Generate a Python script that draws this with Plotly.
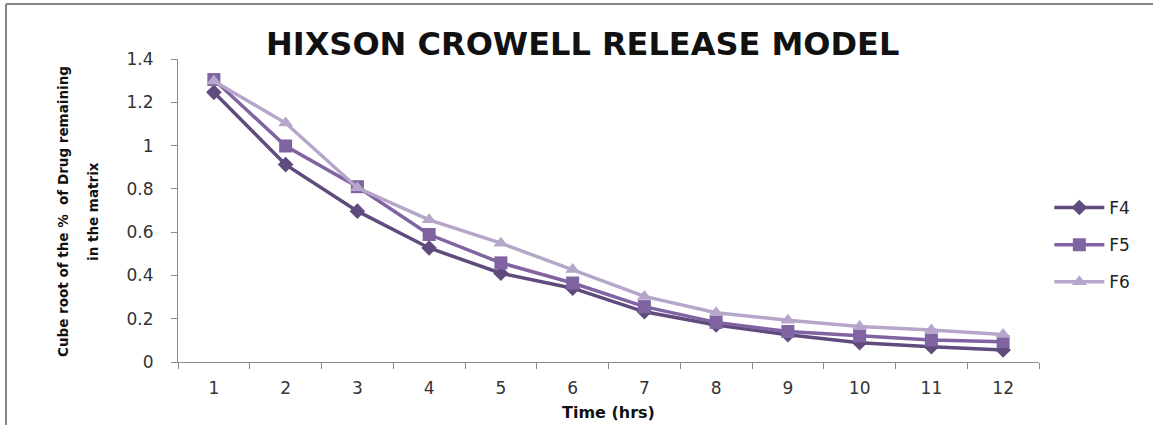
import plotly.graph_objects as go

# Time points (hours) and cube-root values for each formulation
hours = ["1", "2", "3", "4", "5", "6", "7", "8", "9", "10", "11", "12"]
f4 = [1.246, 0.912, 0.697, 0.527, 0.410, 0.341, 0.232, 0.171, 0.126, 0.089, 0.071, 0.056]
f5 = [1.305, 0.998, 0.810, 0.589, 0.458, 0.365, 0.256, 0.183, 0.141, 0.121, 0.102, 0.094]
f6 = [1.298, 1.104, 0.805, 0.657, 0.549, 0.427, 0.303, 0.228, 0.193, 0.164, 0.148, 0.127]
y_ticks = [0, 0.2, 0.4, 0.6, 0.8, 1, 1.2, 1.4]

W, H = 1153, 425
ML, MR, MT, MB = 178, 114, 59, 63
PW, PH = W - ML - MR, H - MT - MB
FONT = "DejaVu Sans"


def px_x(x):
    return (x - ML) / PW


def px_y(y):
    return (H - MB - y) / PH


series = [
    ("F4", f4, "#5f4b7d", "diamond", 12),
    ("F5", f5, "#8064a2", "square", 13),
    ("F6", f6, "#b6a6ca", "triangle-up", 13),
]

fig = go.Figure()
for name, vals, color, sym, size in series:
    fig.add_trace(go.Scatter(
        x=hours, y=vals, name=name, mode="lines+markers",
        legendgroup=name,
        line=dict(color=color, width=3.5),
        marker=dict(symbol=sym, size=size, color=color),
    ))

axis_common = dict(
    showline=True, linecolor="#8c8c8c", linewidth=1,
    ticks="outside", ticklen=6, tickcolor="#8c8c8c",
    showgrid=False, zeroline=False,
    tickfont=dict(family=FONT, size=17, color="#333333"),
)

fig.update_layout(
    width=W, height=H,
    margin=dict(l=ML, r=MR, t=MT, b=MB),
    paper_bgcolor="white", plot_bgcolor="white",
    font=dict(family=FONT, size=17, color="#333333"),
    showlegend=True,
    legend=dict(
        x=1.012, y=px_y(245), xanchor="left", yanchor="middle",
        font=dict(family=FONT, size=17, color="#222222"),
        itemwidth=50, tracegroupgap=12,
        bgcolor="rgba(0,0,0,0)",
    ),
    xaxis=dict(type="category", tickson="boundaries", range=[-0.5, 11.5],
               ticklabelstandoff=11, **axis_common),
    yaxis=dict(range=[0, 1.4], tickvals=y_ticks, ticklabelstandoff=14, **axis_common),
    annotations=[
        dict(text="<b>HIXSON CROWELL RELEASE MODEL</b>", xref="paper", yref="paper",
             x=px_x(582), y=px_y(44), xanchor="center", yanchor="middle", showarrow=False,
             font=dict(family=FONT, size=32, color="#111111")),
        dict(text="<b>Time (hrs)</b>", xref="paper", yref="paper",
             x=px_x(608), y=px_y(412), xanchor="center", yanchor="middle", showarrow=False,
             font=dict(family=FONT, size=16, color="#111111")),
        dict(text="<b>Cube root of the %  of Drug remaining</b>", xref="paper", yref="paper",
             x=px_x(63), y=px_y(211), xanchor="center", yanchor="middle",
             showarrow=False, textangle=-90,
             font=dict(family=FONT, size=13.5, color="#111111")),
        dict(text="<b>in the matrix</b>", xref="paper", yref="paper",
             x=px_x(93), y=px_y(212), xanchor="center", yanchor="middle",
             showarrow=False, textangle=-90,
             font=dict(family=FONT, size=13.5, color="#111111")),
    ],
    shapes=[
        # chart frame: top and left edges
        dict(type="line", xref="paper", yref="paper",
             x0=px_x(6), x1=px_x(W + 5), y0=px_y(4), y1=px_y(4),
             line=dict(color="#878787", width=2)),
        dict(type="line", xref="paper", yref="paper",
             x0=px_x(6), x1=px_x(6), y0=px_y(4), y1=px_y(H + 5),
             line=dict(color="#878787", width=2)),
    ],
)

fig.write_html("out.html")
